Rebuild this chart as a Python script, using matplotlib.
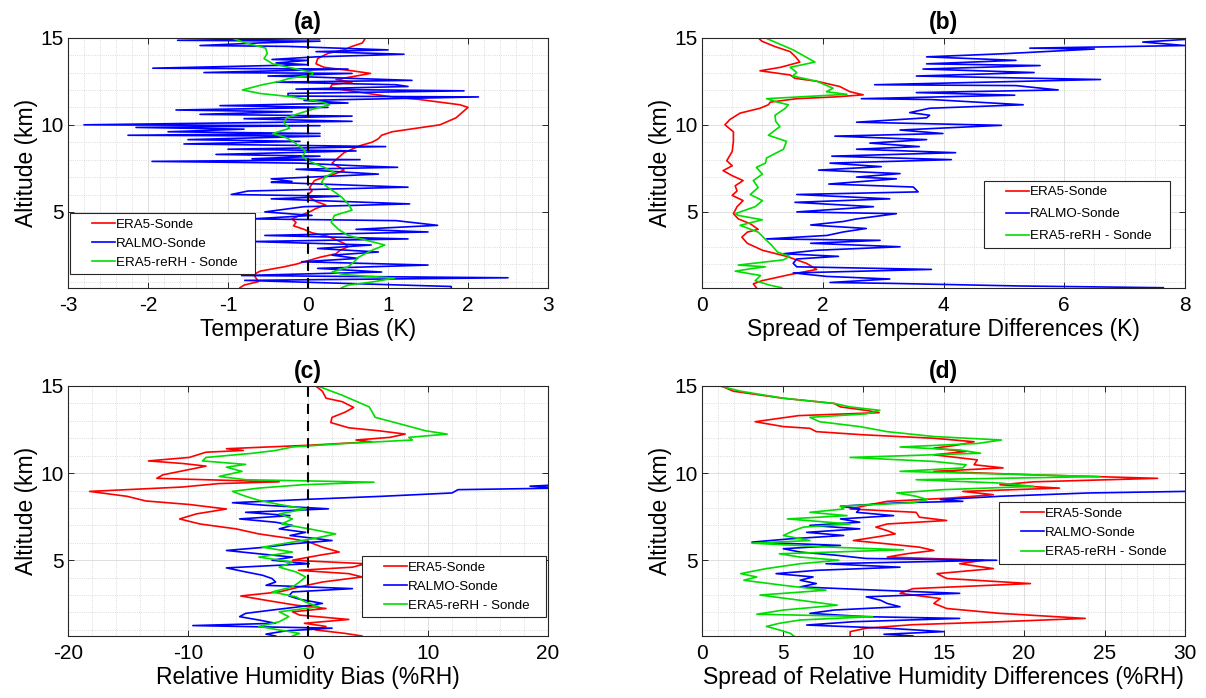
import numpy as np
import matplotlib
matplotlib.use('Agg')
import matplotlib.pyplot as plt
from matplotlib.lines import Line2D
from matplotlib.legend_handler import HandlerLine2D
from matplotlib.ticker import MultipleLocator

plt.rcParams['font.family'] = ['Liberation Sans', 'DejaVu Sans']
plt.rcParams['axes.unicode_minus'] = False

labels = ['ERA5-Sonde', 'RALMO-Sonde', 'ERA5-reRH - Sonde']
colors = ['#ff0000', '#0000ff', '#00dd00']

# ---- (a) temperature bias (K) ----
ra_alt = [15.0, 14.7, 14.5, 14.3, 14.1, 13.8, 13.5, 13.3, 13.1, 12.95, 12.8, 12.6, 12.45, 12.3, 12.15,
          12.0, 11.8, 11.6, 11.45, 11.3, 11.15, 11.0, 10.8, 10.6, 10.4, 10.2, 10.0, 9.8, 9.6, 9.4,
          9.2, 9.0, 8.8, 8.6, 8.4, 8.2, 8.0, 7.8, 7.6, 7.4, 7.2, 7.0, 6.8, 6.6, 6.4,
          6.2, 6.0, 5.8, 5.6, 5.4, 5.2, 5.0, 4.8, 4.6, 4.4, 4.2, 4.0, 3.8, 3.6, 3.4,
          3.2, 3.0, 2.8, 2.6, 2.4, 2.2, 2.0, 1.85, 1.6, 1.4, 1.2, 1.0, 0.8, 0.65]
ra_val = [0.72, 0.68, 0.55, 0.45, 0.25, 0.12, 0.10, 0.20, 0.55, 0.78, 0.60, 0.35, 0.55, 0.30, 0.28,
          0.45, 0.75, 1.05, 1.40, 1.65, 1.90, 2.00, 1.95, 1.90, 1.85, 1.75, 1.65, 1.35, 1.05, 0.92,
          0.88, 0.80, 0.65, 0.55, 0.45, 0.40, 0.35, 0.30, 0.38, 0.45, 0.35, 0.20, 0.08, 0.05, 0.02,
          0.05, 0.0, 0.03, 0.10, 0.22, 0.10, 0.02, -0.10, -0.20, -0.15, -0.18, -0.05, 0.05, 0.25, 0.35,
          0.45, 0.50, 0.40, 0.35, 0.15, 0.0, -0.15, -0.3, -0.6, -0.68, -0.65, -0.62, -0.8, -0.85]

ba_alt = [15.0, 14.95, 14.85, 14.8, 14.7, 14.55, 14.5, 14.3, 14.2, 14.05,
          13.9, 13.75, 13.7, 13.55, 13.45, 13.25, 13.2, 13.0, 12.95, 12.8,
          12.75, 12.55, 12.45, 12.3, 12.2, 12.05, 11.95, 11.8, 11.65, 11.6,
          11.4, 11.25, 11.1, 11.0, 10.85, 10.75, 10.6, 10.5, 10.35, 10.2,
          10.0, 9.95, 9.85, 9.75, 9.6, 9.5, 9.4, 9.35, 9.15, 9.05,
          8.9, 8.75, 8.6, 8.5, 8.3, 8.2, 8.05, 8.0, 7.9, 7.8,
          7.65, 7.56, 7.45, 7.17, 6.9, 6.75, 6.7, 6.42, 6.2, 6.0,
          5.9, 5.75, 5.46, 5.3, 5.0, 4.8, 4.6, 4.5, 4.23, 4.0,
          3.85, 3.65, 3.45, 3.3, 3.1, 2.9, 2.7, 2.52, 2.33, 2.14,
          1.95, 1.76, 1.55, 1.35, 1.22, 1.07, 0.92, 0.72, 0.65]
ba_val = [-0.25, 0.15, -1.63, 0.15, -0.6, -1.35, -0.25, 1.0, 0.1, 1.2,
          0.1, -0.45, 0.0, -0.4, 0.0, -1.94, 0.5, -1.3, 0.55, -0.5,
          0.0, 1.3, -0.4, 1.1, 1.25, -0.15, 1.95, -0.25, -0.25, 2.13,
          -0.05, 0.5, -1.1, 0.25, -1.65, -0.2, -1.35, 0.55, -0.8, 0.55,
          -2.8, 0.15, -2.15, -0.8, -1.75, 0.15, -2.25, 0.15, -1.5, -0.1,
          -1.55, 0.97, -1.0, 0.6, -1.15, 0.15, -0.7, 0.65, -1.95, -0.1,
          0.6, 1.12, -0.15, 0.88, -0.46, -0.2, -0.46, 1.25, -0.75, -0.96,
          0.4, -0.46, 1.27, -0.05, -0.54, 0.05, -0.7, 1.1, 1.62, 0.6,
          1.5, -0.54, 1.25, -0.7, 0.79, 0.12, 0.88, 0.3, 0.62, -0.08,
          1.5, 0.12, 0.92, -0.83, 2.5, -0.79, 0.3, 1.79, 1.79]

ga_alt = [15.0, 14.7, 14.4, 14.1, 13.8, 13.5, 13.25, 13.0, 12.86, 12.67,
          12.5, 12.3, 12.0, 11.8, 11.6, 11.3, 11.15, 10.95, 10.67, 10.4,
          10.1, 9.8, 9.5, 9.25, 9.05, 8.75, 8.47, 8.2, 7.94, 7.56,
          7.27, 7.0, 6.7, 6.4, 6.15, 5.85, 5.47, 5.1, 4.8, 4.4,
          4.0, 3.65, 3.35, 3.1, 2.8, 2.4, 2.15, 1.85, 1.55, 1.4,
          1.2, 1.0, 0.8, 0.65]
ga_val = [-0.96, -0.78, -0.53, -0.51, -0.55, -0.44, -0.19, 0.06, 0.05, -0.23,
          -0.35, -0.57, -0.82, -0.6, -0.19, 0.18, 0.27, 0.1, -0.1, -0.27,
          -0.3, -0.23, -0.44, -0.27, -0.19, -0.1, -0.03, -0.07, 0.0, 0.2,
          0.33, 0.21, 0.17, 0.25, 0.33, 0.42, 0.5, 0.55, 0.33, 0.29,
          0.38, 0.5, 0.75, 0.96, 0.8, 0.63, 0.58, 0.5, 0.3, 0.46,
          1.08, 0.83, 0.5, 0.42]

# ---- (b) spread of temperature differences (K) ----
rb_alt = [15.0, 14.8, 14.5, 14.2, 13.9, 13.6, 13.3, 13.1, 12.86, 12.67,
          12.5, 12.2, 11.9, 11.72, 11.6, 11.5, 11.3, 11.15, 10.95, 10.67,
          10.3, 10.0, 9.6, 9.05, 8.47, 7.94, 7.65, 7.37, 7.08, 6.8,
          6.5, 6.2, 5.95, 5.65, 5.3, 4.9, 4.6, 4.32, 4.0, 3.84,
          3.55, 3.2, 2.8, 2.45, 2.05, 1.7, 1.4, 1.05, 0.87, 0.65]
rb_val = [0.93, 0.99, 1.2, 1.46, 1.55, 1.62, 1.3, 0.96, 1.46, 1.54,
          1.9, 2.28, 2.45, 2.67, 2.2, 1.57, 1.13, 1.1, 0.96, 0.63,
          0.46, 0.38, 0.52, 0.52, 0.5, 0.41, 0.5, 0.35, 0.5, 0.68,
          0.55, 0.58, 0.5, 0.68, 0.58, 0.52, 0.6, 0.8, 0.93, 0.75,
          0.66, 0.75, 1.0, 1.4, 1.73, 1.9, 1.45, 0.99, 0.85, 0.9]

bb_alt = [15.0, 15.0, 14.9, 14.75, 14.55, 14.4, 14.35, 14.08, 13.9, 13.7,
          13.5, 13.4, 13.2, 13.0, 12.8, 12.6, 12.3, 12.25, 12.0, 11.85,
          11.7, 11.5, 11.45, 11.15, 10.95, 10.7, 10.55, 10.4, 10.15, 9.97,
          9.7, 9.5, 9.35, 9.15, 8.95, 8.75, 8.6, 8.4, 8.2, 8.0,
          7.8, 7.6, 7.4, 7.2, 7.0, 6.9, 6.6, 6.43, 6.15, 6.0,
          5.75, 5.55, 5.3, 5.0, 4.9, 4.6, 4.45, 4.25, 4.05, 3.85,
          3.65, 3.45, 3.37, 3.2, 3.0, 2.8, 2.6, 2.45, 2.3, 2.05,
          1.85, 1.7, 1.5, 1.3, 1.15, 0.95, 0.9, 0.75, 0.65]
bb_val = [3.47, 8.0, 8.0, 7.3, 8.0, 5.43, 6.5, 5.0, 3.72, 5.2,
          3.72, 5.6, 3.66, 5.5, 3.55, 6.6, 2.86, 5.2, 5.9, 3.55,
          5.18, 2.64, 3.8, 5.32, 3.77, 3.44, 3.77, 3.72, 2.56, 4.96,
          3.28, 3.99, 2.2, 3.72, 2.78, 3.6, 2.56, 4.2, 2.15, 4.13,
          2.12, 2.97, 1.93, 3.28, 2.56, 3.22, 2.1, 3.5, 3.58, 1.57,
          3.11, 1.54, 2.84, 1.57, 3.22, 2.56, 2.34, 1.8, 2.72, 2.34,
          2.07, 1.07, 2.95, 1.8, 3.28, 1.9, 1.35, 2.26, 1.57, 1.51,
          1.57, 3.8, 1.51, 2.06, 3.11, 2.12, 3.1, 5.26, 7.64]

gb_alt = [15.0, 14.7, 14.3, 13.6, 13.3, 13.0, 12.8, 12.5, 12.1, 11.9,
          11.75, 11.5, 11.3, 11.15, 10.95, 10.55, 10.2, 9.9, 9.4, 9.05,
          8.6, 8.1, 7.8, 7.56, 7.17, 6.8, 6.4, 6.0, 5.65, 5.3,
          4.9, 4.8, 4.55, 4.23, 3.84, 3.36, 3.1, 2.7, 2.45, 2.25,
          1.95, 1.85, 1.76, 1.6, 1.35, 1.05, 0.8, 0.65]
gb_val = [1.04, 1.24, 1.51, 1.87, 1.46, 1.57, 1.5, 1.9, 2.17, 2.06,
          2.4, 1.07, 1.25, 1.43, 1.38, 1.21, 1.22, 1.29, 1.1, 1.4,
          1.35, 1.07, 1.05, 0.9, 1.0, 0.85, 0.93, 0.8, 1.0, 0.88,
          0.55, 0.6, 1.0, 0.63, 0.93, 1.07, 1.15, 1.25, 1.45, 1.35,
          0.6, 1.05, 0.85, 0.55, 0.97, 0.88, 1.12, 1.32]

# ---- (c) relative humidity bias (%RH) ----
rc_alt = [15.0, 14.7, 14.3, 14.1, 13.77, 13.5, 13.2, 12.9, 12.6, 12.43,
          12.24, 12.05, 11.9, 11.8, 11.6, 11.4, 11.3, 11.2, 10.9, 10.7,
          10.55, 10.4, 9.9, 9.7, 9.5, 9.4, 9.2, 8.95, 8.67, 8.4,
          8.2, 7.94, 7.66, 7.37, 7.08, 6.8, 6.51, 6.23, 6.04, 5.75,
          5.47, 5.28, 5.0, 4.8, 4.6, 4.42, 4.23, 4.04, 3.75, 3.47,
          3.18, 2.95, 2.7, 2.42, 2.23, 2.04, 1.85, 1.6, 1.38, 1.2,
          1.0, 0.8, 0.65]
rc_val = [0.64, 1.2, 1.5, 2.85, 3.8, 3.1, 2.0, 1.9, 3.4, 5.9,
          8.1, 6.8, 4.0, 5.3, 0.1, -6.8, -5.4, -8.5, -9.9, -13.3,
          -10.4, -8.5, -12.1, -12.6, -2.4, -7.4, -10.5, -18.2, -15.1, -13.5,
          -9.9, -6.8, -9.3, -10.7, -9.0, -6.0, -4.1, -1.3, 0.1, 1.2,
          2.6, 0.9, -1.3, 4.8, 3.7, -0.8, 3.4, 4.5, 1.2, -0.7,
          -2.4, -5.6, -3.5, -1.0, 1.5, -1.3, -0.7, 3.4, -0.3, 1.5,
          0.6, 3.1, 4.5]

bc_alt = [9.33, 9.25, 9.14, 9.05, 8.86, 8.67, 8.5, 8.3, 8.15, 7.95,
          7.75, 7.56, 7.37, 7.18, 7.0, 6.8, 6.6, 6.42, 6.13, 5.94,
          5.75, 5.56, 5.37, 5.18, 5.0, 4.8, 4.56, 4.33, 4.14, 3.95,
          3.75, 3.56, 3.37, 3.18, 2.95, 2.76, 2.52, 2.33, 2.14, 1.95,
          1.76, 1.57, 1.38, 1.25, 1.1, 0.95, 0.76, 0.65]
bc_val = [21.0, 18.5, 21.0, 12.5, 12.0, 6.2, 0.1, -6.3, -3.5, 1.7,
          -5.2, -1.5, -5.7, -2.7, -1.3, -2.4, -0.2, -1.5, 2.0, -1.3,
          -3.5, -6.8, -4.1, -1.3, -3.0, 0.1, -6.8, -5.2, -3.8, -3.0,
          -2.7, -3.5, 3.7, -1.3, -1.6, -0.7, 1.2, -0.7, -3.0, -5.2,
          -5.7, -4.1, -2.7, -9.6, 2.0, -1.8, -3.5, -2.7]

gc_alt = [15.0, 14.47, 13.8, 13.57, 13.2, 12.8, 12.43, 12.24, 12.05, 11.9,
          11.7, 11.5, 11.3, 11.14, 10.9, 10.7, 10.5, 10.34, 10.1, 9.81,
          9.62, 9.48, 9.33, 9.14, 8.95, 8.67, 8.44, 8.2, 7.94, 7.66,
          7.37, 7.08, 6.8, 6.51, 6.23, 6.04, 5.75, 5.47, 5.18, 4.9,
          4.6, 4.33, 4.04, 3.75, 3.47, 3.18, 2.9, 2.6, 2.33, 2.04,
          1.76, 1.47, 1.2, 1.0, 0.8, 0.65]
gc_val = [0.8, 2.85, 5.1, 5.3, 5.6, 7.8, 9.8, 11.6, 8.4, 8.7,
          3.1, -1.3, -2.7, -4.6, -8.5, -8.8, -5.2, -6.8, -5.5, -7.4,
          -5.2, 5.5, -0.5, -4.1, -6.3, -5.2, -4.1, -2.4, -0.2, -2.4,
          -1.3, -2.2, 0.1, 2.3, 0.4, -1.3, -3.8, -1.3, -4.1, -1.3,
          -2.4, -1.0, -0.2, -0.7, -1.3, -3.0, -1.0, -0.2, 0.9, -2.4,
          -1.6, -2.4, -4.1, -2.4, -0.7, -1.3]

# ---- (d) spread of relative humidity differences (%RH) ----
rd_alt = [15.0, 14.7, 14.3, 14.0, 13.8, 13.6, 13.47, 13.3, 12.95, 12.67,
          12.57, 12.38, 12.2, 12.0, 11.8, 11.6, 11.43, 11.24, 11.05, 10.76,
          10.48, 10.3, 10.1, 9.9, 9.7, 9.5, 9.33, 9.14, 8.95, 8.76,
          8.57, 8.38, 8.2, 7.94, 7.75, 7.47, 7.28, 7.08, 6.9, 6.7,
          6.51, 6.33, 6.13, 5.94, 5.75, 5.56, 5.37, 5.18, 5.0, 4.8,
          4.52, 4.23, 3.95, 3.66, 3.37, 3.1, 2.8, 2.52, 2.23, 1.95,
          1.66, 1.47, 1.3, 1.1, 0.9, 0.65]
rd_val = [1.2, 1.95, 5.0, 8.2, 8.6, 10.2, 11.0, 6.0, 3.3, 5.05,
          6.7, 7.1, 10.0, 14.4, 16.9, 15.8, 14.4, 16.4, 14.4, 17.1,
          16.9, 18.7, 14.4, 20.6, 28.3, 20.6, 18.5, 22.2, 16.2, 18.1,
          15.4, 11.5, 10.5, 9.2, 13.3, 13.5, 15.2, 11.5, 10.8, 11.5,
          12.0, 10.8, 9.4, 11.5, 13.5, 14.4, 12.7, 11.5, 17.5, 16.0,
          18.1, 14.6, 15.2, 20.4, 13.1, 12.3, 14.8, 14.4, 15.2, 18.5,
          23.8, 18.5, 13.1, 10.2, 9.2, 9.2]

bd_alt = [9.1, 8.95, 8.86, 8.67, 8.48, 8.38, 8.3, 8.1, 7.94, 7.75,
          7.56, 7.37, 7.18, 7.0, 6.8, 6.6, 6.42, 6.23, 6.04, 5.85,
          5.66, 5.47, 5.28, 5.1, 5.0, 4.8, 4.6, 4.42, 4.23, 4.04,
          3.85, 3.66, 3.47, 3.28, 3.1, 2.9, 2.7, 2.52, 2.33, 2.14,
          1.95, 1.76, 1.66, 1.47, 1.28, 1.1, 0.9, 0.75, 0.65]
bd_val = [32.0, 30.0, 24.0, 18.5, 14.8, 16.2, 12.3, 8.6, 9.8, 9.6,
          11.9, 8.6, 9.8, 6.7, 9.8, 6.5, 8.8, 5.5, 3.1, 8.6,
          5.05, 6.1, 8.4, 10.2, 18.3, 7.7, 12.3, 7.1, 4.6, 6.9,
          6.1, 7.1, 6.1, 10.9, 16.0, 10.2, 11.1, 11.5, 12.3, 8.2,
          6.7, 10.2, 16.0, 9.4, 6.5, 11.5, 15.0, 11.3, 13.1]

gd_alt = [15.0, 14.7, 14.3, 14.0, 13.8, 13.6, 13.4, 13.2, 12.95, 12.67,
          12.38, 12.1, 11.9, 11.7, 11.5, 11.33, 11.14, 10.9, 10.67, 10.48,
          10.3, 10.1, 9.8, 9.62, 9.43, 9.24, 9.05, 8.86, 8.67, 8.48,
          8.3, 8.1, 7.94, 7.75, 7.56, 7.37, 7.08, 6.9, 6.7, 6.42,
          6.13, 5.98, 5.75, 5.6, 5.37, 5.18, 5.0, 4.8, 4.52, 4.23,
          4.04, 3.85, 3.56, 3.28, 3.0, 2.7, 2.42, 2.14, 1.9, 1.76,
          1.57, 1.38, 1.2, 1.0, 0.8, 0.65]
gd_val = [1.1, 2.4, 5.05, 8.2, 9.2, 11.05, 10.2, 6.7, 7.3, 9.8,
          11.5, 14.4, 18.6, 17.1, 12.3, 16.0, 17.3, 9.2, 14.4, 16.4,
          16.2, 12.3, 24.7, 13.3, 18.5, 20.6, 15.0, 12.1, 13.3, 14.0,
          13.1, 8.6, 8.8, 6.7, 9.0, 5.3, 9.2, 6.3, 5.7, 5.05,
          6.7, 3.1, 8.0, 12.5, 4.8, 6.1, 8.5, 6.1, 4.0, 2.4,
          3.4, 2.6, 5.05, 7.7, 3.6, 6.1, 8.4, 5.05, 3.4, 10.6,
          6.1, 4.8, 4.0, 4.8, 5.5, 5.7]

panels = [
    dict(title='(a)', xlabel='Temperature Bias (K)', xlim=(-3, 3), xstep=1, xminor=0.2,
         series=[(ra_alt, ra_val), (ba_alt, ba_val), (ga_alt, ga_val)], zero=True,
         rect=[0.0564, 0.5878, 0.398, 0.3582], leg=(0.004, 0.297, 0.385), lsp=0.5),
    dict(title='(b)', xlabel='Spread of Temperature Differences (K)', xlim=(0, 8), xstep=2, xminor=0.5,
         series=[(rb_alt, rb_val), (bb_alt, bb_val), (gb_alt, gb_val)], zero=False,
         rect=[0.5821, 0.5878, 0.4005, 0.3582], leg=(0.584, 0.428, 0.385), lsp=0.72),
    dict(title='(c)', xlabel='Relative Humidity Bias (%RH)', xlim=(-20, 20), xstep=10, xminor=2,
         series=[(rc_alt, rc_val), (bc_alt, bc_val), (gc_alt, gc_val)], zero=True,
         rect=[0.0564, 0.0888, 0.398, 0.3582], leg=(0.613, 0.319, 0.383), lsp=0.5),
    dict(title='(d)', xlabel='Spread of Relative Humidity Differences (%RH)', xlim=(0, 30), xstep=5, xminor=1,
         series=[(rd_alt, rd_val), (bd_alt, bd_val), (gd_alt, gd_val)], zero=False,
         rect=[0.5821, 0.0888, 0.4005, 0.3582], leg=(0.615, 0.536, 0.385), lsp=0.53),
]

fig = plt.figure(figsize=(12.06, 6.98), dpi=100)

for p in panels:
    ax = fig.add_axes(p['rect'])
    for (alt, val), c, lab in zip(p['series'], colors, labels):
        ax.plot(val, alt, color=c, lw=1.2, label=lab)
    if p['zero']:
        ax.axvline(0, color='k', lw=1.5, ls=(0, (4.8, 3.4)))

    ax.set_xlim(*p['xlim'])
    ax.set_ylim(0.65, 15)
    ax.set_xticks(np.arange(p['xlim'][0], p['xlim'][1] + 0.01, p['xstep']))
    ax.set_yticks([5, 10, 15])
    ax.xaxis.set_minor_locator(MultipleLocator(p['xminor']))
    ax.yaxis.set_minor_locator(MultipleLocator(1))
    ax.grid(which='major', color='#d9d9d9', lw=0.6)
    ax.grid(which='minor', color='#d0d0d0', lw=0.6, ls=':')
    ax.set_axisbelow(True)
    ax.tick_params(which='major', direction='in', top=True, right=True, length=4,
                   width=0.7, color='#262626', labelsize=15)
    ax.tick_params(which='minor', length=0)
    ax.tick_params(axis='x', pad=6)
    ax.tick_params(axis='y', pad=3)
    for s in ax.spines.values():
        s.set_color('#262626')
        s.set_linewidth(0.8)

    ax.set_xlabel(p['xlabel'], fontsize=16.5, labelpad=2)
    ax.set_ylabel('Altitude (km)', fontsize=16.5, labelpad=2)
    ax.set_title(p['title'], fontsize=16.5, fontweight='bold', pad=6)

    x0, ytop, w = p['leg']
    leg = ax.legend(loc='upper left', bbox_to_anchor=(x0, ytop, w, 0), mode='expand',
                    borderaxespad=0, fontsize=9.6, fancybox=False, framealpha=1,
                    edgecolor='#262626', borderpad=0.4, labelspacing=p['lsp'],
                    handlelength=2.95, handletextpad=0.08,
                    handler_map={Line2D: HandlerLine2D(xpad=1.22)})
    leg.get_frame().set_linewidth(0.8)

fig.savefig('out.png', dpi=100)
